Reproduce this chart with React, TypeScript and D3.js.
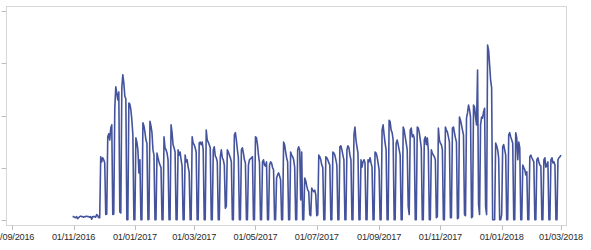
import React from "react";
import * as d3 from "d3";

// Daily series starting Monday 31/10/2016 (one row per week: Mon..Sun)
const startDate = new Date(2016, 9, 31);
const dailyValues: number[] = [
  6, 6, 5, 4, 6, 2, 4,
  6, 7, 6, 6, 5, 6, 6,
  7, 6, 6, 5, 6, 1, 6,
  6, 6, 5, 10, 8, 4, 4,
  121, 111, 119, 115, 109, 10, 11,
  159, 165, 153, 176, 182, 10, 11,
  214, 255, 243, 230, 245, 15, 13,
  253, 278, 262, 237, 232, 0, 0,
  224, 222, 211, 191, 163, 0, 0,
  157, 149, 134, 90, 115, 0, 0,
  186, 180, 168, 153, 147, 0, 1,
  189, 180, 167, 134, 124, 0, 0,
  128, 119, 111, 105, 100, 0, 0,
  159, 138, 134, 128, 115, 0, 0,
  182, 167, 144, 138, 130, 0, 0,
  134, 124, 130, 115, 103, 0, 0,
  124, 111, 115, 101, 92, 0, 0,
  159, 147, 144, 138, 130, 0, 0,
  147, 149, 144, 149, 134, 0, 0,
  172, 153, 149, 144, 138, 0, 0,
  134, 140, 122, 119, 111, 0, 0,
  121, 134, 119, 115, 105, 22, 26,
  134, 130, 124, 119, 111, 0, 0,
  163, 167, 153, 134, 119, 0, 0,
  134, 138, 128, 115, 109, 0, 0,
  105, 115, 117, 119, 121, 0, 0,
  159, 157, 144, 124, 109, 0, 0,
  111, 115, 105, 103, 111, 0, 0,
  105, 111, 109, 100, 96, 0, 0,
  80, 86, 90, 84, 77, 0, 0,
  149, 144, 130, 119, 111, 0, 0,
  130, 124, 121, 115, 101, 0, 0,
  134, 140, 134, 38, 130, 0, 0,
  80, 75, 65, 57, 54, 10, 8,
  61, 57, 54, 57, 48, 8, 10,
  124, 121, 115, 105, 100, 0, 0,
  121, 119, 115, 109, 105, 0, 0,
  130, 128, 124, 115, 105, 0, 0,
  140, 142, 134, 124, 115, 0, 0,
  134, 142, 138, 124, 115, 0, 0,
  163, 178, 153, 140, 128, 0, 0,
  115, 101, 111, 115, 109, 0, 0,
  115, 111, 119, 109, 101, 0, 0,
  130, 128, 121, 109, 96, 0, 0,
  172, 182, 163, 147, 134, 0, 0,
  191, 188, 172, 167, 153, 0, 0,
  147, 153, 144, 134, 124, 0, 0,
  178, 172, 159, 147, 134, 25, 10,
  172, 176, 159, 163, 157, 0, 0,
  178, 176, 167, 153, 138, 0, 0,
  153, 159, 144, 157, 134, 0, 0,
  134, 128, 124, 121, 115, 4, 6,
  176, 153, 147, 144, 134, 0, 0,
  178, 172, 168, 159, 149, 4, 4,
  176, 178, 167, 157, 149, 2, 4,
  197, 191, 182, 172, 163, 10, 8,
  195, 205, 220, 211, 197, 4, 6,
  220, 216, 197, 182, 287, 29, 10,
  182, 197, 195, 207, 214, 25, 10,
  335, 325, 297, 268, 253, 0, 0,
  0, 147, 142, 134, 119, 0, 0,
  10, 140, 144, 134, 124, 0, 0,
  163, 167, 159, 153, 147, 0, 0,
  167, 157, 115, 149, 138, 0, 0,
  105, 100, 96, 86, 92, 0, 0,
  121, 124, 119, 115, 111, 0, 0,
  115, 119, 111, 105, 103, 0, 0,
  115, 119, 101, 105, 111, 0, 0,
  115, 119, 109, 111, 105, 0, 0,
  115, 119, 121, 124,
];

const xTickDates = [
  new Date(2016, 8, 1), new Date(2016, 10, 1), new Date(2017, 0, 1), new Date(2017, 2, 1),
  new Date(2017, 4, 1), new Date(2017, 6, 1), new Date(2017, 8, 1), new Date(2017, 10, 1),
  new Date(2018, 0, 1), new Date(2018, 2, 1),
];
const yTickValues = [0, 100, 200, 300, 400];
const xDomain = [new Date(2016, 7, 25, 18), new Date(2018, 2, 7)];
const yDomain = [-10, 410];

const W = 591, H = 250;
const left = 6, right = 567, top = 6, bottom = 225;

export default function App() {
  const data = dailyValues.map((v, i) => ({ date: d3.timeDay.offset(startDate, i), value: v }));
  const x = d3.scaleTime().domain(xDomain).range([left, right]);
  const y = d3.scaleLinear().domain(yDomain).range([bottom, top]);
  const line = d3.line<{ date: Date; value: number }>()
    .x(d => x(d.date))
    .y(d => y(d.value));
  const fmt = d3.timeFormat("%d/%m/%Y");
  return (
    <div style={{ position: "absolute", left: 0, top: 0 }}>
      <svg width={W} height={H} style={{ display: "block", fontFamily: "Liberation Sans, Arial, sans-serif" }}>
        <rect x={0} y={0} width={W} height={H} fill="#fff" />
        <rect x={left + 0.5} y={top + 0.5} width={right - left - 1} height={bottom - top} fill="none" stroke="#d6d6d6" strokeWidth={1} />
        {yTickValues.map(t => (
          <line key={t} x1={1.5} x2={left} y1={Math.round(y(t)) + 0.5} y2={Math.round(y(t)) + 0.5} stroke="#bdbdbd" strokeWidth={1} />
        ))}
        {xTickDates.map(d => (
          <g key={+d}>
            <line x1={Math.round(x(d)) + 0.5} x2={Math.round(x(d)) + 0.5} y1={bottom + 0.5} y2={bottom + 5} stroke="#bdbdbd" strokeWidth={1} />
            <text x={x(d)} y={240} textAnchor="middle" fontSize={9.2} letterSpacing={-0.2} fill="#2b2b2b">{fmt(d)}</text>
          </g>
        ))}
        <path d={line(data) || ""} fill="none" stroke="#44539c" strokeWidth={1.6} strokeLinejoin="round" />
      </svg>
    </div>
  );
}
